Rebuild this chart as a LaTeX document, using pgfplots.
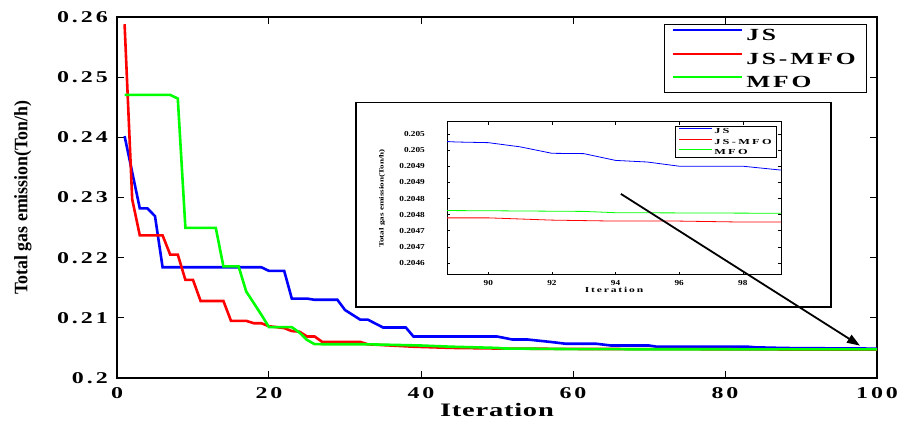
\documentclass[border=0pt]{standalone}
\usepackage{pgfplots}
\pgfplotsset{compat=1.18}
\usepackage{pgfplotstable}
\usetikzlibrary{arrows.meta}
\usepackage{fontspec}
\setmainfont{Liberation Serif}
\newfontfamily\tickfont[FakeStretch=1.45,LetterSpace=18]{Liberation Serif}
\newfontfamily\labfont[FakeStretch=1.5,LetterSpace=4]{Liberation Serif}
\newfontfamily\legfont[FakeStretch=1.5,LetterSpace=17]{Liberation Serif}
\newfontfamily\ylabfont[FakeStretch=0.94]{Liberation Serif}
\newfontfamily\itickfont[FakeStretch=1.2]{Liberation Serif}
\newfontfamily\ilegfont[FakeStretch=1.6,LetterSpace=30]{Liberation Serif}
\newfontfamily\ilabfont[FakeStretch=1.5,LetterSpace=24]{Liberation Serif}
\newfontfamily\iylabfont[FakeStretch=1.4]{Liberation Serif}

\definecolor{jsblue}{RGB}{0,0,255}
\definecolor{jsred}{RGB}{255,0,0}
\definecolor{mfogreen}{RGB}{0,255,0}

% convergence curves (iteration, emission)
\pgfplotstableread{
x y
1 0.2402
3 0.2282
4 0.2282
5 0.2269
6 0.2184
19 0.2184
20 0.2178
22 0.2178
23 0.2132
25 0.2132
26 0.2130
29 0.2130
30 0.2113
32 0.2097
33 0.2097
35 0.2084
38 0.2084
39 0.2069
50 0.2069
52 0.2064
54 0.2064
57 0.2060
59 0.2057
63 0.2057
65 0.2054
70 0.2054
71 0.2052
83 0.2052
84 0.2051
88 0.20498
89 0.204975
90 0.204973
91 0.20496
92 0.20494
93 0.204939
94 0.204918
95 0.204913
96 0.2049
97 0.2049
98 0.2049
99 0.20489
100 0.20488
}\jsdata

\pgfplotstableread{
x y
1 0.2588
2 0.2297
3 0.2237
6 0.2237
7 0.2205
8 0.2205
9 0.2163
10 0.2163
11 0.2128
14 0.2128
15 0.2095
17 0.2095
18 0.2091
19 0.2091
20 0.2086
22 0.2083
23 0.2078
24 0.2077
25 0.2069
26 0.2069
27 0.2060
32 0.2060
33 0.2056
39 0.2052
44 0.2050
50 0.20490
60 0.20483
70 0.20480
80 0.20478
88 0.20474
90 0.20474
92 0.204733
94 0.20473
96 0.20473
98 0.204727
100 0.204727
}\jsmfodata

\pgfplotstableread{
x y
1 0.24705
7 0.24705
8 0.24645
9 0.22495
13 0.22495
14 0.21855
16 0.21855
17 0.21438
18 0.21245
19 0.2105
20 0.20845
23 0.20845
24 0.20755
25 0.20633
26 0.20562
33 0.20560
40 0.20540
44 0.2052
50 0.2050
51 0.20490
60 0.20480
70 0.20478
88 0.204763
90 0.204762
93 0.20476
94 0.204756
100 0.204754
}\mfodata

\begin{document}
\begin{tikzpicture}
\begin{axis}[
  name=main,
  at={(0,0)}, anchor=south west,
  scale only axis,
  width=760pt, height=361pt,
  xmin=0, xmax=100,
  ymin=0.2, ymax=0.26,
  xtick={0,20,40,60,80,100},
  xticklabels={0,20,40,60,80,100},
  ytick={0.2,0.21,0.22,0.23,0.24,0.25,0.26},
  yticklabels={0.2,0.21,0.22,0.23,0.24,0.25,0.26},
  tick align=inside,
  major tick length=7pt,
  every tick/.style={black, line width=1pt},
  axis line style={line width=1.3pt},
  ticklabel style={font=\tickfont\bfseries\fontsize{16.5}{18}\selectfont, inner sep=0pt},
  yticklabel style={anchor=east, xshift=-9pt},
  xticklabel style={anchor=north, yshift=-9pt},
  xlabel={Iteration},
  xlabel style={font=\labfont\bfseries\fontsize{19}{21}\selectfont, at={(axis description cs:0.5,-0.108)}, anchor=base},
  ylabel={Total gas emission(Ton/h)},
  ylabel style={font=\ylabfont\bfseries\fontsize{19}{21}\selectfont, at={(axis description cs:-0.1237,0.5)}, anchor=center},
  legend style={at={(0.987,0.98)}, anchor=north east, draw=black, line width=1pt, fill=white,
    font=\legfont\bfseries\fontsize{17}{19}\selectfont,
    inner xsep=8pt, inner ysep=4pt, row sep=10.5pt,
    nodes={inner ysep=0pt, inner xsep=3pt, text height=12pt, text depth=1pt},
    cells={anchor=west}},
  legend image code/.code={\draw[#1, line width=1.6pt] (0pt,5pt) -- (69pt,5pt);},
]
\addplot[jsblue, line width=2.6pt] table {\jsdata};
\addplot[jsred, line width=2.6pt] table {\jsmfodata};
\addplot[mfogreen, line width=2.6pt] table {\mfodata};
\legend{JS,JS-MFO,MFO}
\draw[black, line width=1.5pt, fill=white] (axis cs:31.45,0.24583) rectangle (axis cs:93.95,0.21183);
\coordinate (arrA) at (axis cs:66.3,0.2306);
\coordinate (arrB) at (axis cs:97.76,0.20538);
\end{axis}

\begin{axis}[
  name=inset,
  at={(330pt,103pt)}, anchor=south west,
  scale only axis,
  width=334pt, height=153pt,
  xmin=88.7, xmax=99.2,
  ymin=0.204563, ymax=0.205037,
  restrict x to domain=88:100,
  xtick={90,92,94,96,98},
  xticklabels={90,92,94,96,98},
  ytick={0.2046,0.20465,0.2047,0.20475,0.2048,0.20485,0.2049,0.20495,0.205},
  yticklabels={0.2046,0.2047,0.2047,0.2048,0.2048,0.2049,0.2049,0.205,0.205},
  tick align=inside,
  major tick length=3pt,
  every tick/.style={black, line width=0.6pt},
  axis line style={line width=1pt},
  axis background/.style={fill=white},
  ticklabel style={font=\itickfont\bfseries\fontsize{7.7}{8.5}\selectfont, inner sep=0pt},
  yticklabel style={anchor=east, xshift=-22pt},
  xticklabel style={anchor=north, yshift=-5.5pt},
  xlabel={Iteration},
  xlabel style={font=\ilabfont\bfseries\fontsize{7.7}{8.5}\selectfont, at={(axis description cs:0.5,-0.1176)}, anchor=base},
  ylabel={Total gas emission(Ton/h)},
  ylabel style={font=\iylabfont\bfseries\fontsize{6.5}{7}\selectfont, at={(axis description cs:-0.1946,0.5)}, anchor=center},
  legend style={at={(0.987,0.976)}, anchor=north east, draw=black, line width=1pt, fill=white,
    font=\ilegfont\bfseries\fontsize{7.7}{8.5}\selectfont,
    inner xsep=3pt, inner ysep=2pt, row sep=4.5pt,
    nodes={inner ysep=0pt, inner xsep=1.5pt, text height=5.5pt, text depth=0.5pt},
    cells={anchor=west}},
  legend image code/.code={\draw[#1, line width=0.8pt] (0pt,2.5pt) -- (33pt,2.5pt);},
]
\addplot[jsblue, line width=0.8pt] table {\jsdata};
\addplot[jsred, line width=0.8pt] table {\jsmfodata};
\addplot[mfogreen, line width=0.8pt] table {\mfodata};
\legend{JS,JS-MFO,MFO}
\end{axis}

\draw[black, line width=1.8pt, -{Triangle[length=13pt,width=9pt]}] (arrA) -- (arrB);

\pgfresetboundingbox
\path (-117pt,-47pt) rectangle (788pt,378pt);
\end{tikzpicture}
\end{document}
